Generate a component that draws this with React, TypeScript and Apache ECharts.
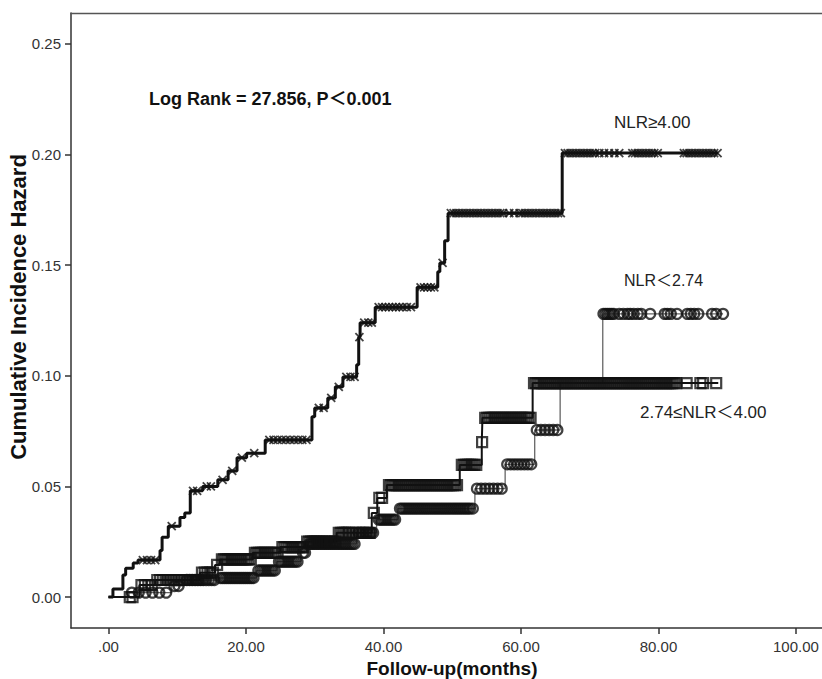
import React, { useEffect, useRef } from "react";
import * as echarts from "echarts";

// ---- Data ----
const xTickValues = [0, 20, 40, 60, 80, 100];
const yTickValues = [0, 0.05, 0.1, 0.15, 0.2, 0.25];

// NLR ≥ 4.00 (step times and cumulative hazard after each step)
const highTimes = [0, 0.65, 2.1, 2.5, 3.6, 4.3, 7.5, 7.8, 8.7, 10.4, 11.1, 11.9, 13.7, 15.9, 17.4, 18.7, 20.1, 22.8, 29.6, 30.0, 31.9, 33.0, 34.1, 36.1, 36.4, 36.6, 38.8, 44.9, 47.9, 48.2, 48.9, 49.4, 66.0];
const highCum = [0, 0.0036, 0.010, 0.013, 0.0154, 0.0167, 0.021, 0.027, 0.032, 0.036, 0.038, 0.048, 0.050, 0.053, 0.057, 0.063, 0.065, 0.071, 0.0815, 0.0855, 0.090, 0.095, 0.0995, 0.105, 0.1175, 0.124, 0.131, 0.140, 0.147, 0.151, 0.161, 0.1735, 0.2007];
const highEnd = 88.7;
const highCensor = [5.0, 5.6, 6.2, 6.8, 9.2, 12.3, 12.9, 14.3, 14.9, 16.6, 18.0, 19.4, 21.2, 23.4, 24.0, 24.6, 25.2, 25.8, 26.4, 27.0, 27.6, 28.2, 28.8, 30.6, 31.3, 32.4, 33.5, 34.6, 35.2, 35.8, 36.5, 37.2, 37.8, 38.3, 39.3, 39.8, 40.3, 40.8, 41.3, 41.8, 42.3, 42.8, 43.4, 44.0, 45.4, 45.9, 46.4, 46.9, 47.4, 48.6, 49.8, 50.2, 50.6, 51.0, 51.4, 51.8, 52.2, 52.6, 53.0, 53.4, 53.8, 54.2, 54.6, 55.0, 55.4, 55.8, 56.2, 56.6, 57.0, 57.4, 58.3, 59.0, 59.8, 60.2, 60.6, 61.0, 61.4, 61.8, 62.2, 62.6, 63.0, 63.4, 63.8, 64.2, 64.6, 65.0, 65.4, 65.8, 66.4, 66.8, 67.2, 67.6, 68.0, 68.4, 68.8, 69.2, 69.6, 70.0, 70.4, 70.8, 71.4, 72.1, 72.8, 73.6, 74.3, 76.2, 76.6, 77.0, 77.4, 77.8, 78.2, 78.6, 79.0, 79.4, 79.9, 83.7, 84.1, 84.5, 84.9, 85.3, 85.7, 86.1, 86.5, 86.9, 87.3, 87.7, 88.1, 88.6];

// 2.74 ≤ NLR < 4.00 (squares)
const midTimes = [0, 4.5, 6.8, 13.3, 15.5, 16.2, 21.0, 25.0, 28.6, 33.2, 38.3, 39.1, 40.5, 51.1, 54.3, 54.4, 61.7];
const midCum = [0, 0.0054, 0.0077, 0.011, 0.0145, 0.017, 0.020, 0.0226, 0.025, 0.029, 0.038, 0.0448, 0.0506, 0.0597, 0.070, 0.081, 0.0967];
const midEnd = 88.7;
const midCensor = [
  3.1, 3.5, 4.8, 5.3, 5.8, 6.3,
  7.1, 7.5, 7.9, 8.3, 8.7, 9.1, 9.5, 9.9, 10.3, 10.7, 11.1, 11.5, 11.9, 12.3, 12.7, 13.0,
  13.6, 14.0, 14.4, 14.8, 15.2, 15.8,
  16.5, 16.8, 17.1, 17.4, 17.7, 18.0, 18.3, 18.6, 18.9, 19.2, 19.5, 19.8, 20.1, 20.4, 20.7,
  21.3, 21.6, 21.9, 22.2, 22.5, 22.8, 23.1, 23.4, 23.7, 24.0, 24.3, 24.6,
  25.3, 25.6, 25.9, 26.2, 26.5, 26.8, 27.1, 27.4, 27.7, 28.0, 28.3,
  28.9, 29.2, 29.5, 29.8, 30.1, 30.4, 30.7, 31.0, 31.4, 31.8, 32.2, 32.6, 33.0,
  33.5, 33.8, 34.1, 34.4, 34.7, 35.0, 35.5, 36.0, 36.5, 37.0, 37.5, 38.0,
  38.6, 39.4, 39.8,
  40.8, 41.1, 41.4, 41.7, 42.0, 42.3, 42.6, 42.9, 43.2, 43.5, 43.8, 44.1, 44.4, 44.7, 45.0, 45.3, 45.6, 45.9, 46.2, 46.5, 46.8, 47.1, 47.4, 47.7, 48.0, 48.3, 48.6, 48.9, 49.2, 49.5, 49.8, 50.1, 50.4, 50.7,
  51.4, 51.7, 52.0, 52.3, 52.6, 52.9, 53.2, 53.5,
  54.35,
  54.8, 55.1, 55.4, 55.7, 56.0, 56.3, 56.6, 56.9, 57.2, 57.5, 57.8, 58.1, 58.4, 58.7, 59.0, 59.3, 59.6, 59.9, 60.2, 60.5, 60.8, 61.1, 61.4,
  61.9, 62.2, 62.5, 62.8, 63.1, 63.4, 63.7, 64.0, 64.3, 64.6, 64.9, 65.2, 65.5, 65.8, 66.1, 66.4, 66.7, 67.0, 67.3, 67.6, 67.9, 68.2, 68.5, 68.8, 69.1, 69.4, 69.7, 70.0, 70.3, 70.6, 70.9, 71.2, 71.5, 71.8, 72.1, 72.4, 72.7, 73.0, 73.3, 73.6, 73.9, 74.2, 74.5, 74.8, 75.1, 75.4, 75.7, 76.0, 76.3, 76.6, 76.9, 77.2, 77.5, 77.8, 78.1, 78.4, 78.7, 79.0, 79.3, 79.6, 79.9, 80.2, 80.5, 80.8, 81.1, 81.4, 81.7, 82.0, 82.3, 82.6,
  84.1, 86.1, 86.5, 88.4,
];

// NLR < 2.74 (circles)
const lowTimes = [0, 3.0, 9.2, 11.0, 16.0, 21.5, 24.5, 28.0, 28.9, 36.1, 39.0, 42.1, 53.3, 57.7, 62.0, 65.7, 71.9];
const lowCum = [0, 0.002, 0.005, 0.0077, 0.0086, 0.012, 0.016, 0.020, 0.024, 0.029, 0.035, 0.040, 0.049, 0.060, 0.0755, 0.0967, 0.128];
const lowEnd = 89.4;
const lowCensor = [
  3.4, 4.4, 5.4, 6.4, 7.4, 8.4,
  9.6, 10.2,
  11.4, 11.8, 12.2, 12.6, 13.0, 13.4, 13.8, 14.2, 14.6, 15.0, 15.4,
  16.3, 16.6, 16.9, 17.2, 17.5, 17.8, 18.1, 18.4, 18.7, 19.0, 19.3, 19.6, 19.9, 20.2, 20.5, 20.8, 21.1,
  21.8, 22.1, 22.4, 22.7, 23.0, 23.3, 23.6, 23.9, 24.2,
  24.8, 25.1, 25.4, 25.7, 26.0, 26.3, 26.6, 26.9, 27.2, 27.5,
  28.3, 28.6,
  29.2, 29.5, 29.8, 30.1, 30.4, 30.7, 31.0, 31.3, 31.6, 31.9, 32.2, 32.5, 32.8, 33.1, 33.4, 33.7, 34.0, 34.3, 34.6, 34.9, 35.2, 35.5, 35.8,
  36.4, 36.7, 37.0, 37.3, 37.6, 37.9, 38.2, 38.5,
  39.3, 39.6, 39.9, 40.2, 40.5, 40.8, 41.1, 41.4, 41.7,
  42.4, 42.7, 43.0, 43.3, 43.6, 43.9, 44.2, 44.5, 44.8, 45.1, 45.4, 45.7, 46.0, 46.3, 46.6, 46.9, 47.2, 47.5, 47.8, 48.1, 48.4, 48.7, 49.0, 49.3, 49.6, 49.9, 50.2, 50.5, 50.8, 51.1, 51.4, 51.7, 52.0, 52.3, 52.6, 53.0,
  53.6, 54.2, 54.8, 55.4, 56.0, 56.6, 57.2,
  58.0, 58.5, 59.0, 59.5, 60.0, 60.5, 61.0, 61.5,
  62.3, 62.9, 63.5, 64.1, 64.7, 65.3,
  72.0, 72.3, 72.6, 72.9, 73.2, 73.5, 74.3, 74.9, 75.5, 75.9, 76.4, 77.0, 77.5, 78.8, 80.9, 81.3, 81.8, 82.7, 84.2, 84.7, 85.2, 85.8, 87.8, 88.4, 89.4,
];

const X_MIN = -5.45;
const X_MAX = 103.79;
const Y_MIN = -0.014;
const Y_MAX = 0.264;

const FONT = "'Liberation Sans', Arial, 'Noto Sans CJK SC', sans-serif";

function stepLine(times: number[], cum: number[], end: number) {
  const pts = times.map((t, i) => [t, cum[i]]);
  pts.push([end, cum[cum.length - 1]]);
  return pts;
}
function valueAt(times: number[], cum: number[], t: number) {
  let v = cum[0];
  for (let i = 0; i < times.length; i++) if (times[i] <= t) v = cum[i];
  return v;
}
function censorPts(times: number[], cum: number[], cens: number[]) {
  return cens.map((t) => [t, valueAt(times, cum, t)]);
}

export default function App() {
  const ref = useRef<HTMLDivElement>(null);
  useEffect(() => {
    if (!ref.current) return;
    const chart = echarts.init(ref.current, null, { renderer: "svg" });
    const axisColor = "#333";
    chart.setOption({
      animation: false,
      backgroundColor: "#fff",
      grid: {
        left: 71,
        top: 13,
        right: 0,
        bottom: 51,
        show: false,
        containLabel: false,
      },
      xAxis: [
        {
          type: "value",
          min: X_MIN,
          max: X_MAX,
          splitLine: { show: false },
          axisLine: { show: true, onZero: false, lineStyle: { color: axisColor, width: 1.5 } },
          axisTick: { show: true, customValues: xTickValues, length: 6, lineStyle: { color: axisColor, width: 1.5 } },
          axisLabel: {
            customValues: xTickValues,
            formatter: (v: number) => (v === 0 ? ".00" : v.toFixed(2)),
            fontSize: 15,
            color: "#333",
            margin: 11,
            fontFamily: FONT,
          },
        },
        {
          type: "value",
          position: "top",
          min: X_MIN,
          max: X_MAX,
          splitLine: { show: false },
          axisLine: { show: true, onZero: false, lineStyle: { color: "#555", width: 1.3 } },
          axisTick: { show: false },
          axisLabel: { show: false },
        },
      ],
      yAxis: {
        type: "value",
        min: Y_MIN,
        max: Y_MAX,
        splitLine: { show: false },
        axisLine: { show: true, onZero: false, lineStyle: { color: axisColor, width: 1.5 } },
        axisTick: { show: true, customValues: yTickValues, length: 6, lineStyle: { color: axisColor, width: 1.5 } },
        axisLabel: {
          customValues: yTickValues,
          formatter: (v: number) => v.toFixed(2),
          fontSize: 15,
          color: "#333",
          margin: 10,
          fontFamily: FONT,
        },
      },
      series: [
        {
          name: "NLR<2.74 line",
          type: "line",
          step: "end",
          showSymbol: false,
          data: stepLine(lowTimes, lowCum, lowEnd),
          lineStyle: { color: "#666", width: 1.3 },
          z: 2,
        },
        {
          name: "2.74≤NLR<4.00 line",
          type: "line",
          step: "end",
          showSymbol: false,
          data: stepLine(midTimes, midCum, midEnd),
          lineStyle: { color: "#111", width: 2 },
          z: 2,
        },
        {
          name: "NLR≥4.00 line",
          type: "line",
          step: "end",
          showSymbol: false,
          data: stepLine(highTimes, highCum, highEnd),
          lineStyle: { color: "#111", width: 3 },
          z: 3,
        },
        {
          name: "NLR<2.74 censored",
          type: "scatter",
          symbol: "circle",
          symbolSize: 10,
          data: censorPts(lowTimes, lowCum, lowCensor),
          itemStyle: { color: "rgba(255,255,255,0)", borderColor: "#111", borderWidth: 2.2 },
          z: 4,
        },
        {
          name: "2.74≤NLR<4.00 censored",
          type: "scatter",
          symbol: "rect",
          symbolSize: 10,
          data: censorPts(midTimes, midCum, midCensor),
          itemStyle: { color: "rgba(255,255,255,0)", borderColor: "#111", borderWidth: 2.2 },
          z: 4,
        },
        {
          name: "NLR≥4.00 censored",
          type: "scatter",
          symbol: "path://M0 0L10 10M10 0L0 10",
          symbolSize: 8,
          data: censorPts(highTimes, highCum, highCensor),
          itemStyle: { color: "rgba(0,0,0,0)", borderColor: "#111", borderWidth: 1.8 },
          z: 5,
        },
      ],
      graphic: [
        {
          type: "text",
          left: 149,
          top: 90,
          style: {
            text: "Log Rank = 27.856, P＜0.001",
            font: `bold 18px ${FONT}`,
            fill: "#111",
          },
        },
        {
          type: "text",
          left: 614,
          top: 114,
          style: { text: "NLR≥4.00", font: `17px ${FONT}`, fill: "#222" },
        },
        {
          type: "text",
          left: 624,
          top: 272,
          style: { text: "NLR＜2.74", font: `16px ${FONT}`, fill: "#222" },
        },
        {
          type: "text",
          left: 640,
          top: 404,
          style: { text: "2.74≤NLR＜4.00", font: `17px ${FONT}`, fill: "#222" },
        },
        {
          type: "text",
          x: 452,
          y: 668,
          style: {
            text: "Follow-up(months)",
            font: `bold 19px ${FONT}`,
            fill: "#111",
            align: "center",
            verticalAlign: "middle",
          },
        },
        {
          type: "text",
          x: 18,
          y: 307,
          rotation: Math.PI / 2,
          style: {
            text: "Cumulative Incidence Hazard",
            font: `bold 22px ${FONT}`,
            fill: "#111",
            align: "center",
            verticalAlign: "middle",
          },
        },
      ],
    });
    return () => chart.dispose();
  }, []);
  return (
    <div
      ref={ref}
      style={{ position: "fixed", left: 0, top: 0, width: 822, height: 679 }}
    />
  );
}
